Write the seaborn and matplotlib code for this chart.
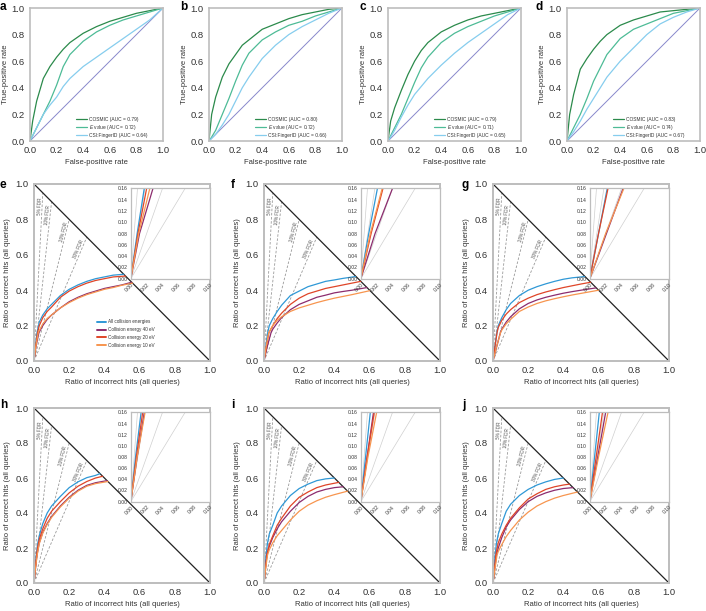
import numpy as np
import matplotlib
matplotlib.use("Agg")
import matplotlib.pyplot as plt
import seaborn as sns

sns.set_style("white")
plt.rcParams['font.family'] = ['Liberation Sans', 'DejaVu Sans']
plt.rcParams['mathtext.fontset'] = 'custom'
plt.rcParams['mathtext.it'] = 'Liberation Sans:italic'
plt.rcParams['mathtext.rm'] = 'Liberation Sans'

# ---------------- data: ROC panels a-d ----------------
roc_fpr = [0, 0.02, 0.05, 0.1, 0.15, 0.2, 0.25, 0.3, 0.4, 0.5, 0.6, 0.7, 0.8, 0.9, 1.0]
roc_names = ["COSMIC", "$E$ value", "CSI:FingerID"]

a_cosmic = [0, 0.15, 0.30, 0.47, 0.56, 0.63, 0.69, 0.74, 0.81, 0.86, 0.90, 0.93, 0.96, 0.98, 1.0]
a_evalue = [0, 0.04, 0.10, 0.20, 0.30, 0.42, 0.56, 0.65, 0.75, 0.82, 0.87, 0.91, 0.94, 0.97, 1.0]
a_csi    = [0, 0.04, 0.10, 0.20, 0.27, 0.33, 0.41, 0.47, 0.56, 0.63, 0.70, 0.77, 0.84, 0.91, 1.0]
a_auc = [0.79, 0.72, 0.64]

b_cosmic = [0, 0.20, 0.33, 0.48, 0.58, 0.65, 0.72, 0.76, 0.84, 0.88, 0.92, 0.95, 0.97, 0.99, 1.0]
b_evalue = [0, 0.03, 0.08, 0.20, 0.32, 0.45, 0.57, 0.66, 0.76, 0.82, 0.87, 0.90, 0.94, 0.97, 1.0]
b_csi    = [0, 0.02, 0.05, 0.12, 0.20, 0.30, 0.40, 0.48, 0.62, 0.72, 0.80, 0.86, 0.91, 0.96, 1.0]
b_auc = [0.80, 0.72, 0.66]

c_cosmic = [0, 0.15, 0.25, 0.38, 0.50, 0.60, 0.68, 0.74, 0.82, 0.87, 0.91, 0.94, 0.96, 0.98, 1.0]
c_evalue = [0, 0.04, 0.10, 0.20, 0.32, 0.44, 0.55, 0.63, 0.74, 0.81, 0.86, 0.90, 0.94, 0.97, 1.0]
c_csi    = [0, 0.03, 0.08, 0.18, 0.27, 0.35, 0.41, 0.47, 0.57, 0.66, 0.74, 0.81, 0.88, 0.95, 1.0]
c_auc = [0.79, 0.71, 0.65]

d_cosmic = [0, 0.20, 0.35, 0.54, 0.62, 0.69, 0.75, 0.80, 0.87, 0.91, 0.94, 0.97, 0.98, 0.99, 1.0]
d_evalue = [0, 0.04, 0.10, 0.20, 0.32, 0.45, 0.55, 0.65, 0.77, 0.84, 0.88, 0.92, 0.96, 0.98, 1.0]
d_csi    = [0, 0.03, 0.07, 0.15, 0.24, 0.32, 0.40, 0.48, 0.60, 0.70, 0.80, 0.88, 0.93, 0.97, 1.0]
d_auc = [0.83, 0.74, 0.67]

# ---------------- data: hit-ratio panels e-j ----------------
energy_names = ["All collision energies", "Collision energy 40 eV",
                "Collision energy 20 eV", "Collision energy 10 eV"]
fdr_levels = [0.05, 0.10, 0.20, 0.30]

e_all_x = [0, 0.008, 0.017, 0.03, 0.05, 0.075, 0.1, 0.15, 0.2, 0.25, 0.3, 0.35, 0.4, 0.45, 0.51]
e_all_y = [0, 0.08, 0.16, 0.22, 0.26, 0.295, 0.32, 0.37, 0.405, 0.43, 0.45, 0.465, 0.475, 0.485, 0.49]
e_40_x = [0, 0.011, 0.028, 0.05, 0.075, 0.1, 0.15, 0.2, 0.25, 0.3, 0.35, 0.4, 0.45, 0.5, 0.555]
e_40_y = [0, 0.08, 0.16, 0.2, 0.235, 0.26, 0.3, 0.335, 0.36, 0.38, 0.395, 0.41, 0.42, 0.43, 0.445]
e_20_x = [0, 0.009, 0.02, 0.03, 0.05, 0.075, 0.1, 0.15, 0.2, 0.25, 0.3, 0.35, 0.4, 0.45, 0.52]
e_20_y = [0, 0.08, 0.16, 0.2, 0.245, 0.28, 0.305, 0.36, 0.395, 0.42, 0.44, 0.455, 0.465, 0.475, 0.48]
e_10_x = [0, 0.01, 0.024, 0.05, 0.075, 0.1, 0.15, 0.2, 0.25, 0.3, 0.35, 0.4, 0.45, 0.5, 0.56]
e_10_y = [0, 0.08, 0.16, 0.21, 0.24, 0.26, 0.3, 0.33, 0.355, 0.375, 0.39, 0.405, 0.415, 0.428, 0.44]

f_all_x = [0, 0.01, 0.021, 0.03, 0.05, 0.075, 0.1, 0.15, 0.2, 0.25, 0.3, 0.35, 0.4, 0.45, 0.52]
f_all_y = [0, 0.08, 0.16, 0.2, 0.24, 0.28, 0.315, 0.37, 0.395, 0.42, 0.435, 0.45, 0.458, 0.467, 0.477]
f_40_x = [0, 0.018, 0.04, 0.05, 0.075, 0.1, 0.15, 0.2, 0.25, 0.3, 0.35, 0.4, 0.45, 0.5, 0.585]
f_40_y = [0, 0.08, 0.16, 0.18, 0.215, 0.245, 0.29, 0.32, 0.34, 0.36, 0.372, 0.385, 0.393, 0.4, 0.415]
f_20_x = [0, 0.013, 0.028, 0.05, 0.075, 0.1, 0.15, 0.2, 0.25, 0.3, 0.35, 0.4, 0.45, 0.5, 0.55]
f_20_y = [0, 0.08, 0.16, 0.2, 0.24, 0.27, 0.32, 0.355, 0.38, 0.395, 0.41, 0.42, 0.43, 0.44, 0.45]
f_10_x = [0, 0.012, 0.027, 0.05, 0.075, 0.1, 0.15, 0.2, 0.25, 0.3, 0.35, 0.4, 0.45, 0.5, 0.6]
f_10_y = [0, 0.08, 0.16, 0.2, 0.23, 0.25, 0.28, 0.3, 0.315, 0.33, 0.343, 0.355, 0.365, 0.375, 0.397]

g_all_x = [0, 0.011, 0.022, 0.03, 0.05, 0.075, 0.1, 0.15, 0.2, 0.25, 0.3, 0.35, 0.4, 0.45, 0.52]
g_all_y = [0, 0.08, 0.16, 0.2, 0.245, 0.29, 0.325, 0.37, 0.4, 0.42, 0.436, 0.45, 0.462, 0.47, 0.477]
g_40_x = [0, 0.021, 0.042, 0.05, 0.075, 0.1, 0.15, 0.2, 0.25, 0.3, 0.35, 0.4, 0.45, 0.5, 0.585]
g_40_y = [0, 0.08, 0.16, 0.18, 0.22, 0.25, 0.295, 0.325, 0.345, 0.36, 0.372, 0.383, 0.392, 0.4, 0.413]
g_20_x = [0, 0.011, 0.023, 0.03, 0.05, 0.075, 0.1, 0.15, 0.2, 0.25, 0.3, 0.35, 0.4, 0.45, 0.5, 0.555]
g_20_y = [0, 0.08, 0.16, 0.19, 0.23, 0.265, 0.29, 0.33, 0.355, 0.375, 0.39, 0.403, 0.415, 0.425, 0.435, 0.445]
g_10_x = [0, 0.02, 0.043, 0.05, 0.075, 0.1, 0.15, 0.2, 0.25, 0.3, 0.35, 0.4, 0.45, 0.5, 0.6]
g_10_y = [0, 0.08, 0.16, 0.175, 0.21, 0.235, 0.28, 0.305, 0.325, 0.34, 0.352, 0.363, 0.373, 0.382, 0.4]

h_all_x = [0, 0.006, 0.013, 0.02, 0.03, 0.05, 0.075, 0.1, 0.15, 0.2, 0.25, 0.3, 0.35, 0.375]
h_all_y = [0, 0.08, 0.16, 0.22, 0.27, 0.34, 0.4, 0.44, 0.495, 0.545, 0.578, 0.602, 0.615, 0.625]
h_40_x = [0, 0.008, 0.017, 0.03, 0.05, 0.075, 0.1, 0.15, 0.2, 0.25, 0.3, 0.35, 0.415]
h_40_y = [0, 0.08, 0.16, 0.23, 0.29, 0.34, 0.38, 0.44, 0.49, 0.53, 0.558, 0.573, 0.585]
h_20_x = [0, 0.007, 0.015, 0.02, 0.03, 0.05, 0.075, 0.1, 0.15, 0.2, 0.25, 0.3, 0.35, 0.39]
h_20_y = [0, 0.08, 0.16, 0.2, 0.25, 0.31, 0.37, 0.41, 0.465, 0.515, 0.553, 0.58, 0.6, 0.61]
h_10_x = [0, 0.008, 0.018, 0.03, 0.05, 0.075, 0.1, 0.15, 0.2, 0.25, 0.3, 0.35, 0.42]
h_10_y = [0, 0.08, 0.16, 0.225, 0.285, 0.335, 0.375, 0.435, 0.485, 0.525, 0.553, 0.568, 0.58]

i_all_x = [0, 0.006, 0.012, 0.02, 0.03, 0.05, 0.075, 0.1, 0.15, 0.2, 0.25, 0.3, 0.35, 0.4]
i_all_y = [0, 0.08, 0.16, 0.23, 0.28, 0.33, 0.4, 0.44, 0.5, 0.54, 0.565, 0.585, 0.595, 0.6]
i_40_x = [0, 0.008, 0.016, 0.03, 0.05, 0.075, 0.1, 0.15, 0.2, 0.25, 0.3, 0.35, 0.4, 0.45]
i_40_y = [0, 0.08, 0.16, 0.21, 0.26, 0.31, 0.35, 0.41, 0.46, 0.495, 0.52, 0.535, 0.545, 0.55]
i_20_x = [0, 0.008, 0.017, 0.03, 0.05, 0.075, 0.1, 0.15, 0.2, 0.25, 0.3, 0.35, 0.425]
i_20_y = [0, 0.08, 0.16, 0.22, 0.27, 0.33, 0.37, 0.44, 0.49, 0.52, 0.545, 0.56, 0.575]
i_10_x = [0, 0.009, 0.02, 0.03, 0.05, 0.075, 0.1, 0.15, 0.2, 0.25, 0.3, 0.35, 0.4, 0.475]
i_10_y = [0, 0.08, 0.16, 0.19, 0.23, 0.27, 0.3, 0.36, 0.41, 0.445, 0.47, 0.49, 0.505, 0.525]

j_all_x = [0, 0.006, 0.012, 0.02, 0.03, 0.05, 0.075, 0.1, 0.15, 0.2, 0.25, 0.3, 0.35, 0.4]
j_all_y = [0, 0.08, 0.16, 0.23, 0.28, 0.34, 0.41, 0.45, 0.5, 0.535, 0.56, 0.578, 0.592, 0.6]
j_40_x = [0, 0.01, 0.02, 0.03, 0.05, 0.075, 0.1, 0.15, 0.2, 0.25, 0.3, 0.35, 0.4, 0.455]
j_40_y = [0, 0.08, 0.16, 0.2, 0.26, 0.32, 0.36, 0.42, 0.465, 0.495, 0.515, 0.53, 0.54, 0.545]
j_20_x = [0, 0.008, 0.016, 0.03, 0.05, 0.075, 0.1, 0.15, 0.2, 0.25, 0.3, 0.35, 0.4, 0.435]
j_20_y = [0, 0.08, 0.16, 0.23, 0.28, 0.33, 0.37, 0.43, 0.48, 0.51, 0.535, 0.55, 0.56, 0.565]
j_10_x = [0, 0.011, 0.023, 0.03, 0.05, 0.075, 0.1, 0.15, 0.2, 0.25, 0.3, 0.35, 0.4, 0.48]
j_10_y = [0, 0.08, 0.16, 0.18, 0.22, 0.265, 0.3, 0.36, 0.405, 0.44, 0.465, 0.485, 0.5, 0.52]

# ---------------- styling ----------------
roc_colors = ["#2b8a4b", "#4dbb96", "#86cdee"]
energy_colors = ["#2f98d6", "#8c2c6e", "#df4528", "#f7954f"]
SPINE = "#bdbdbd"
TXT = "#333333"

FIG_W, FIG_H = 706, 611
fig = plt.figure(figsize=(FIG_W / 100, FIG_H / 100), dpi=100)


def add_ax(left, top, w, h):
    return fig.add_axes([left / FIG_W, 1 - (top + h) / FIG_H, w / FIG_W, h / FIG_H])


def style(ax, fs, lw=1.2):
    for s in ax.spines.values():
        s.set_color(SPINE)
        s.set_linewidth(lw)
    ax.tick_params(axis="both", direction="out", length=2.2, width=0.6,
                   color="#888888", labelsize=fs, labelcolor=TXT, pad=1.5)


ticks = [0, 0.2, 0.4, 0.6, 0.8, 1.0]
tick_labels = ["0.0", "0.2", "0.4", "0.6", "0.8", "1.0"]

# ---- top row ----
roc_panels = [("a", 30, 0, [a_cosmic, a_evalue, a_csi], a_auc),
              ("b", 209, 180, [b_cosmic, b_evalue, b_csi], b_auc),
              ("c", 388, 359, [c_cosmic, c_evalue, c_csi], c_auc),
              ("d", 567, 535, [d_cosmic, d_evalue, d_csi], d_auc)]
for letter, left, lx, series, aucs in roc_panels:
    ax = add_ax(left, 8, 133, 133)
    ax.plot([0, 1], [0, 1], color="#8888cc", lw=0.7, zorder=1)
    for name, tpr, col, auc in zip(roc_names, series, roc_colors, aucs):
        sns.lineplot(x=roc_fpr, y=tpr, color=col, lw=0.9, ax=ax, sort=False,
                     estimator=None, label=f"{name} (AUC = {auc:.2f})")
    ax.set_xlim(0, 1)
    ax.set_ylim(0, 1)
    ax.set_xticks(ticks, tick_labels)
    ax.set_yticks(ticks, tick_labels)
    style(ax, 6.8)
    ax.set_xlabel("False-positive rate", fontsize=5.5, color=TXT, labelpad=3)
    ax.set_ylabel("True-positive rate", fontsize=5.5, color=TXT, labelpad=2)
    leg = ax.legend(loc="lower left", bbox_to_anchor=(0.32, 0.0), fontsize=3.5,
                    frameon=False, handlelength=2.3, handletextpad=0.4,
                    labelspacing=0.15, borderaxespad=0.3)
    for t in leg.get_texts():
        t.set_color(TXT)
    fig.text(lx / FIG_W, 1 - 1 / FIG_H, letter, fontsize=8.5, fontweight="bold",
             va="top", ha="left", color="black")

# ---- hit ratio panels ----
hit_panels = [
    ("e", 34, 184, 177, 0, 179, [(e_all_x, e_all_y), (e_40_x, e_40_y), (e_20_x, e_20_y), (e_10_x, e_10_y)]),
    ("f", 264, 184, 177, 231, 179, [(f_all_x, f_all_y), (f_40_x, f_40_y), (f_20_x, f_20_y), (f_10_x, f_10_y)]),
    ("g", 493, 184, 177, 462, 179, [(g_all_x, g_all_y), (g_40_x, g_40_y), (g_20_x, g_20_y), (g_10_x, g_10_y)]),
    ("h", 34, 408, 175, 0, 399, [(h_all_x, h_all_y), (h_40_x, h_40_y), (h_20_x, h_20_y), (h_10_x, h_10_y)]),
    ("i", 264, 408, 175, 231, 399, [(i_all_x, i_all_y), (i_40_x, i_40_y), (i_20_x, i_20_y), (i_10_x, i_10_y)]),
    ("j", 493, 408, 175, 462, 399, [(j_all_x, j_all_y), (j_40_x, j_40_y), (j_20_x, j_20_y), (j_10_x, j_10_y)]),
]

for letter, left, top, h, lx, ly, curves in hit_panels:
    ax = add_ax(left, top, 176, h)
    ax.set_xlim(0, 1)
    ax.set_ylim(0, 1)
    # diagonal
    ax.plot([0, 1], [1, 0], color="#222222", lw=0.9, zorder=2)
    # FDR guide lines
    for f in fdr_levels:
        ax.plot([0, f], [0, 1 - f], color="#9a9a9a", lw=0.6, ls=(0, (3, 2)), zorder=1)
        slope = (1 - f) / f
        p0 = ax.transData.transform((0, 0))
        p1 = ax.transData.transform((1, slope))
        ang = np.degrees(np.arctan2(p1[1] - p0[1], p1[0] - p0[0]))
        yt = 1 - f - 0.075
        ax.text(yt / slope, yt, f"{int(round(f * 100))}% FDR", rotation=ang,
                rotation_mode="anchor", ha="center", va="bottom", fontsize=3.3,
                color="#555555")
    show_leg = letter == "e"
    for (xs, ys), name, col in zip(curves, energy_names, energy_colors):
        sns.lineplot(x=xs, y=ys, color=col, lw=0.9, ax=ax, sort=False, estimator=None,
                     label=name if show_leg else None, legend=show_leg)
    ax.set_xticks(ticks, tick_labels)
    ax.set_yticks(ticks, tick_labels)
    style(ax, 6.8, lw=1.4)
    ax.set_xlabel("Ratio of incorrect hits (all queries)", fontsize=5.5, color=TXT, labelpad=3)
    ax.set_ylabel("Ratio of correct hits (all queries)", fontsize=5.5, color=TXT, labelpad=3)
    if show_leg:
        leg = ax.legend(loc="lower left", bbox_to_anchor=(0.34, 0.06), fontsize=3.3,
                        frameon=False, handlelength=2.0, handletextpad=0.5,
                        labelspacing=0.6, borderaxespad=0.2)
        for ln in leg.get_lines():
            ln.set_linewidth(1.4)
        for t in leg.get_texts():
            t.set_color(TXT)
    # inset
    ins = ax.inset_axes([0.55, 0.465, 0.45, 0.51])
    ins.set_facecolor("white")
    for f in fdr_levels:
        ins.plot([0, f], [0, 1 - f], color="#cfcfcf", lw=0.5, zorder=1)
    for (xs, ys), col in zip(curves, energy_colors):
        sns.lineplot(x=xs, y=ys, color=col, lw=0.9, ax=ins, sort=False, estimator=None, legend=False)
    ins.set_xlim(0, 0.10)
    ins.set_ylim(0, 0.16)
    ins.set_xticks([0, 0.02, 0.04, 0.06, 0.08, 0.10],
                   ["0.00", "0.02", "0.04", "0.06", "0.08", "0.10"])
    ins.set_yticks([0, 0.02, 0.04, 0.06, 0.08, 0.10, 0.12, 0.14, 0.16],
                   ["0.00", "0.02", "0.04", "0.06", "0.08", "0.10", "0.12", "0.14", "0.16"])
    style(ins, 3.6, lw=0.9)
    ins.tick_params(length=1.2, pad=1)
    for lab in ins.get_xticklabels():
        lab.set_rotation(45)
        lab.set_ha("right")
        lab.set_va("top")
        lab.set_rotation_mode("anchor")
    ins.set_xlabel("")
    ins.set_ylabel("")
    fig.text(lx / FIG_W, 1 - ly / FIG_H, letter, fontsize=8.5, fontweight="bold",
             va="top", ha="left", color="black")

fig.savefig("out.png", dpi=100)
